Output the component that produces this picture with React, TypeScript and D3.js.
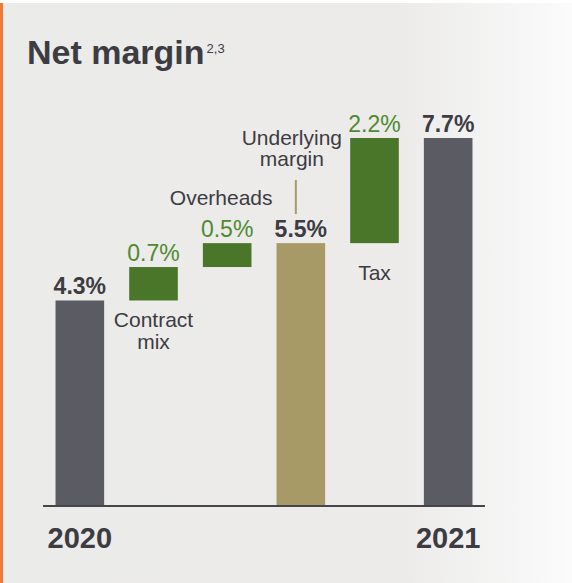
import React from "react";
import * as d3 from "d3";

const categories = ["2020", "Contract mix", "Overheads", "Underlying margin", "Tax", "2021"];
const barStart = [0, 4.3, 5.0, 0, 5.5, 0];
const barEnd = [4.3, 5.0, 5.5, 5.5, 7.7, 7.7];
const valueLabels = ["4.3%", "0.7%", "0.5%", "5.5%", "2.2%", "7.7%"];
const barKinds = ["total", "delta", "delta", "underlying", "delta", "total"];

const W = 572;
const H = 583;
const FONT = "'Liberation Sans', Arial, Helvetica, sans-serif";

const colors: Record<string, string> = {
  total: "#5b5b63",
  delta: "#4a762a",
  underlying: "#a89a67",
};

export default function App() {
  const x = d3.scaleBand<string>().domain(categories).range([43, 485]).paddingInner(0.34).paddingOuter(0.17);
  const y = d3.scaleLinear().domain([0, 7.7]).range([506, 138]);
  const bw = x.bandwidth();
  const cx = (i: number) => (x(categories[i]) as number) + bw / 2;

  return (
    <svg
      width={W}
      height={H}
      style={{ position: "absolute", left: 0, top: 0, display: "block", fontFamily: FONT }}
    >
      <defs>
        <linearGradient id="bg" x1="0" x2="1" y1="0" y2="0">
          <stop offset="0" stopColor="#ebebe9" />
          <stop offset="0.7" stopColor="#ecebea" />
          <stop offset="1" stopColor="#fbfbfb" />
        </linearGradient>
      </defs>
      <rect x={0} y={0} width={W} height={H} fill="#ffffff" />
      <rect x={0} y={3} width={W} height={H - 3} fill="url(#bg)" />
      <rect x={0} y={3} width={3} height={H - 3} fill="#f07a35" />

      <text x={27} y={64} fontSize={34} fontWeight="bold" fill="#3c3c42">
        Net margin
        <tspan dx={2} dy={-11} fontSize={13} fontWeight="normal">2,3</tspan>
      </text>

      {categories.map((c, i) => {
        const y0 = y(Math.max(barStart[i], barEnd[i]));
        const y1 = y(Math.min(barStart[i], barEnd[i]));
        return (
          <rect
            key={c}
            x={x(c)}
            y={y0}
            width={bw}
            height={y1 - y0}
            fill={colors[barKinds[i]]}
          />
        );
      })}

      <line x1={43} x2={485} y1={506} y2={506} stroke="#45454a" strokeWidth={2} />

      {categories.map((c, i) => {
        const isDelta = barKinds[i] === "delta";
        return (
          <text
            key={"v" + c}
            x={cx(i)}
            y={y(barEnd[i]) - 6}
            textAnchor="middle"
            fontSize={23}
            fontWeight={isDelta ? "normal" : "bold"}
            fill={isDelta ? "#4e8a30" : "#3c3c42"}
          >
            {valueLabels[i]}
          </text>
        );
      })}

      <g fontSize={21} fill="#3c3c42" textAnchor="middle">
        <text x={cx(1)} y={327}>Contract</text>
        <text x={cx(1)} y={349}>mix</text>
        <text x={cx(2) - 6} y={205}>Overheads</text>
        <text x={cx(3) - 9} y={145}>Underlying</text>
        <text x={cx(3) - 9} y={166}>margin</text>
        <text x={cx(4)} y={280}>Tax</text>
      </g>
      <line x1={cx(3) - 5} x2={cx(3) - 5} y1={180} y2={214} stroke="#a89a67" strokeWidth={2} />

      <g fontSize={29} fontWeight="bold" fill="#3c3c42" textAnchor="middle">
        <text x={cx(0)} y={548}>{categories[0]}</text>
        <text x={cx(5)} y={548}>{categories[5]}</text>
      </g>
    </svg>
  );
}
